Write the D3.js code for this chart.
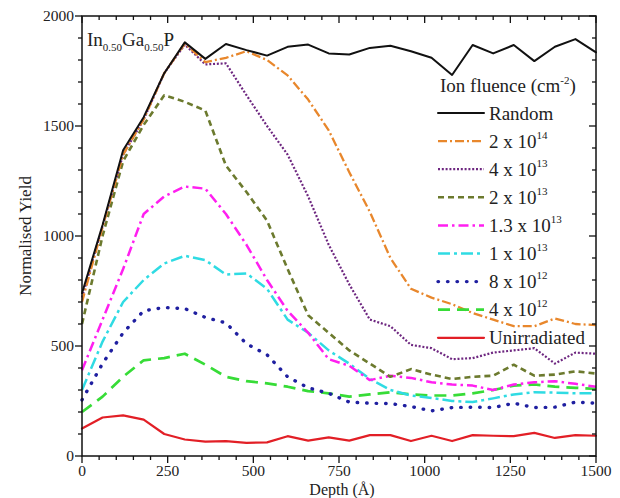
<!DOCTYPE html>
<html>
<head>
<meta charset="utf-8">
<script src="https://cdn.jsdelivr.net/npm/d3@7/dist/d3.min.js"></script>
<style>
  body { margin: 0; background: #fff; }
  text { font-family: "Liberation Serif", "Times New Roman", serif; fill: #222; }
</style>
</head>
<body>
<svg id="chart" width="620" height="498"></svg>
<script>
// depth samples (Angstrom)
var depth = [0, 60, 120, 180, 240, 300, 360, 420, 480, 540, 600, 660, 720, 780, 840, 900, 960, 1020, 1080, 1140, 1200, 1260, 1320, 1380, 1440, 1500];

var random     = [740, 1050, 1390, 1540, 1740, 1880, 1805, 1873, 1845, 1820, 1860, 1870, 1830, 1825, 1855, 1865, 1840, 1810, 1732, 1868, 1830, 1868, 1795, 1860, 1895, 1835];
var f2e14      = [700, 1040, 1370, 1530, 1740, 1875, 1790, 1810, 1840, 1800, 1730, 1620, 1480, 1290, 1110, 900, 760, 720, 690, 650, 620, 590, 590, 625, 600, 595];
var f4e13      = [720, 1045, 1370, 1530, 1740, 1870, 1780, 1785, 1640, 1500, 1370, 1180, 960, 780, 620, 590, 505, 490, 440, 445, 470, 480, 490, 420, 470, 465];
var f2e13      = [600, 1000, 1340, 1505, 1640, 1610, 1570, 1320, 1200, 1070, 850, 640, 560, 480, 420, 360, 395, 370, 350, 360, 365, 415, 365, 370, 385, 375];
var f13e13     = [390, 620, 850, 1100, 1180, 1225, 1215, 1100, 960, 800, 660, 560, 440, 410, 345, 365, 355, 335, 325, 320, 300, 325, 335, 340, 328, 315];
var f1e13      = [300, 520, 700, 800, 875, 910, 890, 825, 830, 760, 620, 560, 480, 420, 350, 300, 275, 264, 250, 245, 262, 280, 290, 288, 285, 285];
var f8e12      = [255, 420, 560, 660, 675, 670, 630, 605, 510, 460, 360, 310, 285, 245, 240, 238, 225, 205, 220, 222, 220, 240, 220, 222, 245, 240];
var f4e12      = [200, 270, 360, 435, 445, 465, 415, 360, 340, 330, 315, 295, 285, 270, 280, 290, 280, 275, 275, 285, 300, 320, 325, 315, 310, 305];
var unirr      = [125, 175, 185, 165, 100, 75, 65, 68, 60, 62, 90, 70, 85, 70, 95, 95, 68, 92, 68, 95, 92, 90, 105, 82, 95, 92];

// legend labels: [mantissa, exponent]
var labels = [["Random", ""], ["2 x 10", "14"], ["4 x 10", "13"], ["2 x 10", "13"], ["1.3 x 10", "13"],
              ["1 x 10", "13"], ["8 x 10", "12"], ["4 x 10", "12"], ["Unirradiated", ""]];

var xTicks = [0, 250, 500, 750, 1000, 1250, 1500];
var yTicks = [0, 500, 1000, 1500, 2000];

var series = [
  {vals: random, color: "#111111", dash: null,            w: 2,   cap: "round"},
  {vals: f2e14,  color: "#e8872c", dash: "9,3,2,3",       w: 2.3, cap: "butt"},
  {vals: f4e13,  color: "#6e2780", dash: "2,1.8",         w: 2.2, cap: "butt"},
  {vals: f2e13,  color: "#6c7a2e", dash: "6,4",           w: 2.6, cap: "butt"},
  {vals: f13e13, color: "#ff1ff0", dash: "10,4,2.5,4",    w: 2.5, cap: "butt"},
  {vals: f1e13,  color: "#2fdbe3", dash: "12,4,3,4",      w: 2.5, cap: "butt"},
  {vals: f8e12,  color: "#1f1fa0", dash: "0.5,9",         w: 3.4, cap: "round"},
  {vals: f4e12,  color: "#37dc37", dash: "12,7",          w: 2.7, cap: "butt"},
  {vals: unirr,  color: "#e21f26", dash: null,            w: 2.2, cap: "round"}
];

var margin = {left: 82, right: 24, top: 16, bottom: 42};
var W = 620, H = 498;
var svg = d3.select("#chart");

var x = d3.scaleLinear().domain([0, 1500]).range([margin.left, W - margin.right]);
var y = d3.scaleLinear().domain([0, 2000]).range([H - margin.bottom, margin.top]);

// data lines, drawn back to front
var line = d3.line()
  .x(function(d, i){ return x(depth[i]); })
  .y(function(d){ return y(d); });

var order = [8, 7, 6, 5, 4, 3, 2, 1, 0];
order.forEach(function(k){
  var s = series[k];
  svg.append("path")
    .attr("d", line(s.vals))
    .attr("fill", "none")
    .attr("stroke", s.color)
    .attr("stroke-width", s.w)
    .attr("stroke-linejoin", "round")
    .attr("stroke-linecap", s.cap)
    .attr("stroke-dasharray", s.dash);
});

// frame
svg.append("rect")
  .attr("x", x(0)).attr("y", y(2000))
  .attr("width", x(1500) - x(0)).attr("height", y(0) - y(2000))
  .attr("fill", "none").attr("stroke", "#111").attr("stroke-width", 1.5);

// axes: left/bottom ticks outward, top/right inward
var xMinor = d3.range(0, 1501, 50);
var yMinor = d3.range(0, 2001, 100);

function ticks(axis, vals, major) {
  svg.append("g").selectAll("line").data(vals).enter().append("line")
    .attr("stroke", "#111").attr("stroke-width", 1.3)
    .each(function(v){
      var len = major.indexOf(v) > -1 ? 7 : 4;
      var el = d3.select(this);
      if (axis == "b") el.attr("x1", x(v)).attr("x2", x(v)).attr("y1", y(0)).attr("y2", y(0) + len);
      if (axis == "t") el.attr("x1", x(v)).attr("x2", x(v)).attr("y1", y(2000)).attr("y2", y(2000) + len);
      if (axis == "l") el.attr("y1", y(v)).attr("y2", y(v)).attr("x1", x(0)).attr("x2", x(0) - len);
      if (axis == "r") el.attr("y1", y(v)).attr("y2", y(v)).attr("x1", x(1500)).attr("x2", x(1500) - len);
    });
}
ticks("b", xMinor, xTicks);
ticks("t", xMinor, xTicks);
ticks("l", yMinor, yTicks);
ticks("r", yMinor, yTicks);

svg.append("g").selectAll("text").data(xTicks).enter().append("text")
  .attr("x", function(d){ return x(d); })
  .attr("y", y(0) + 20)
  .attr("text-anchor", "middle")
  .attr("font-size", 15.5)
  .text(function(d){ return d; });

svg.append("g").selectAll("text").data(yTicks).enter().append("text")
  .attr("x", x(0) - 8)
  .attr("y", function(d){ return y(d) + 5; })
  .attr("text-anchor", "end")
  .attr("font-size", 15.5)
  .text(function(d){ return d; });

// axis titles
svg.append("text")
  .attr("x", 342).attr("y", 495)
  .attr("text-anchor", "middle").attr("font-size", 16)
  .text("Depth (Å)");

svg.append("text")
  .attr("transform", "translate(31," + ((y(0) + y(2000)) / 2) + ") rotate(-90)")
  .attr("text-anchor", "middle").attr("font-size", 17)
  .text("Normalised Yield");

// material label
var mat = svg.append("text").attr("x", 87).attr("y", 46).attr("font-size", 19);
mat.append("tspan").text("In");
mat.append("tspan").attr("font-size", 11).attr("dy", 5).text("0.50");
mat.append("tspan").attr("dy", -5).text("Ga");
mat.append("tspan").attr("font-size", 11).attr("dy", 5).text("0.50");
mat.append("tspan").attr("dy", -5).text("P");

// legend
var lt = svg.append("text").attr("x", 440).attr("y", 92).attr("font-size", 19);
lt.append("tspan").text("Ion fluence (cm");
lt.append("tspan").attr("font-size", 11).attr("dy", -8).text("-2");
lt.append("tspan").attr("dy", 8).text(")");

var leg = svg.append("g").selectAll("g").data(series).enter().append("g")
  .attr("transform", function(d, i){ return "translate(0," + (113 + i * 28.1) + ")"; });

leg.append("line")
  .attr("x1", 438).attr("x2", 484).attr("y1", 0).attr("y2", 0)
  .attr("stroke", function(d){ return d.color; })
  .attr("stroke-width", function(d){ return d.w; })
  .attr("stroke-linecap", function(d){ return d.cap; })
  .attr("stroke-dasharray", function(d){ return d.dash; });

leg.append("text")
  .attr("x", 489).attr("y", 6.5)
  .attr("font-size", 19)
  .each(function(d, i){
    var t = d3.select(this);
    t.append("tspan").text(labels[i][0]);
    if (labels[i][1]) t.append("tspan").attr("font-size", 11).attr("dy", -9).text(labels[i][1]);
  });
</script>
</body>
</html>
